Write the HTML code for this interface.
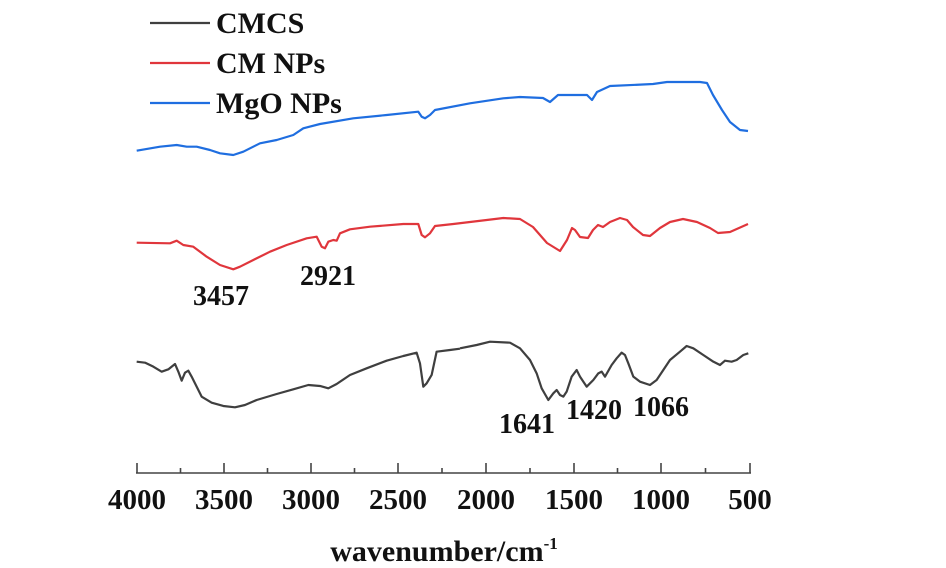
<!DOCTYPE html>
<html><head><meta charset="utf-8"><style>
html,body{margin:0;padding:0;background:#fff;width:946px;height:568px;overflow:hidden}
svg{display:block}
text{font-family:"Liberation Serif",serif;font-weight:bold;fill:#111}
</style></head><body>
<svg width="946" height="568" viewBox="0 0 946 568">
<g fill="none" stroke-width="2.2" stroke-linejoin="round">
<!-- CMCS -->
<g stroke="#3f3f3f">
<polyline vector-effect="non-scaling-stroke" transform="translate(120,330) scale(0.3333)" points="50,95 75,98 100,110 125,125 145,118 165,102 175,125 185,152 195,128 205,122 215,140 245,200 275,218 310,228 345,232 375,225 410,210 470,192 520,178 565,165 600,168 625,175 650,162 690,135 740,115 800,92 850,78 890,68 900,100 910,170 920,160 935,135 950,65 990,60 1020,56"/>
<polyline vector-effect="non-scaling-stroke" transform="translate(440,330) scale(0.3333)" points="60,55 110,45 150,35 210,38 240,55 270,90 290,130 305,175 325,210 340,190 350,180 360,195 370,200 380,185 395,140 410,120 420,140 440,170 460,150 475,130 485,125 495,140 515,105 530,85 545,68 555,75 565,100 580,140 600,155 630,165 650,150 670,120 690,90 720,65 740,48 760,55 790,75 820,95 840,105 855,92 875,95 890,90 910,75 925,70"/>
</g>
<!-- CM NPs -->
<polyline stroke="#e0363c" points="136.7,242.7 170,243.3 176.7,240.7 183.3,245 193.3,246.7 206.7,256.7 220,265 233.3,269.3 240,266.7 253.3,260 270,251.7 286.7,245 306.7,238.3 316.7,236.7 321.7,246.7 325,248.3 328.3,241.7 333.3,240 336.7,240.7 340,233.3 350,229.3 370,226.7 403.3,224 418.3,224 421.7,235 425,237.3 430,233.3 435,226 453.3,224 486.7,220 503.3,218 520,219 533,227 547,243 560,251 567,240 572,228 575,230 580,237 588,238 593,230 598,225 603,227 610,222 620,218 627,220 633,227 643,235 650,236 660,228 670,222 683,219 697,222 710,228 718,233 730,232 748,224"/>
<!-- MgO NPs -->
<polyline stroke="#1f6ee0" points="136.7,150.7 160,146.7 176.7,145 186.7,146.7 196.7,146.7 210,150 220,153.3 233.3,155 243.3,151.7 260,143.3 276.7,140 293.3,135 303.3,128.3 320,124 353.3,118.3 386.7,115 418.3,111.7 421.7,116.7 425,118.3 430,115 435,110 470,103.3 503.3,98.3 520,97 543,98 550,102 558,95 587,95 592,100 597,92 610,86 653,84 667,82 700,82 707,83 713,95 722,110 730,122 740,130 748,131"/>
</g>
<!-- legend -->
<g stroke-width="2.2">
<line x1="150" y1="23" x2="210" y2="23" stroke="#3f3f3f"/>
<line x1="150" y1="63" x2="210" y2="63" stroke="#e0363c"/>
<line x1="150" y1="103" x2="210" y2="103" stroke="#1f6ee0"/>
</g>
<g font-size="30">
<text x="216" y="33">CMCS</text>
<text x="216" y="73">CM NPs</text>
<text x="216" y="113">MgO NPs</text>
</g>
<!-- peak labels -->
<g font-size="28">
<text x="193" y="305">3457</text>
<text x="300" y="285">2921</text>
<text x="499" y="433">1641</text>
<text x="566" y="419">1420</text>
<text x="633" y="416">1066</text>
</g>
<!-- axis -->
<g stroke="#444" stroke-width="1.6">
<line x1="136" y1="473" x2="751" y2="473"/>
<line x1="137" y1="463" x2="137" y2="473"/>
<line x1="180.5" y1="468" x2="180.5" y2="473"/>
<line x1="224" y1="463" x2="224" y2="473"/>
<line x1="267.5" y1="468" x2="267.5" y2="473"/>
<line x1="311" y1="463" x2="311" y2="473"/>
<line x1="354.5" y1="468" x2="354.5" y2="473"/>
<line x1="398" y1="463" x2="398" y2="473"/>
<line x1="442" y1="468" x2="442" y2="473"/>
<line x1="486" y1="463" x2="486" y2="473"/>
<line x1="530" y1="468" x2="530" y2="473"/>
<line x1="574" y1="463" x2="574" y2="473"/>
<line x1="617.5" y1="468" x2="617.5" y2="473"/>
<line x1="661" y1="463" x2="661" y2="473"/>
<line x1="705.5" y1="468" x2="705.5" y2="473"/>
<line x1="750" y1="463" x2="750" y2="473"/>
</g>
<g font-size="29" text-anchor="middle">
<text x="137" y="509">4000</text>
<text x="224" y="509">3500</text>
<text x="311" y="509">3000</text>
<text x="398" y="509">2500</text>
<text x="486" y="509">2000</text>
<text x="574" y="509">1500</text>
<text x="661" y="509">1000</text>
<text x="750" y="509">500</text>
</g>
<text x="444" y="561" font-size="30" text-anchor="middle">wavenumber/cm<tspan font-size="17" dy="-12">-1</tspan></text>
</svg>
</body></html>
